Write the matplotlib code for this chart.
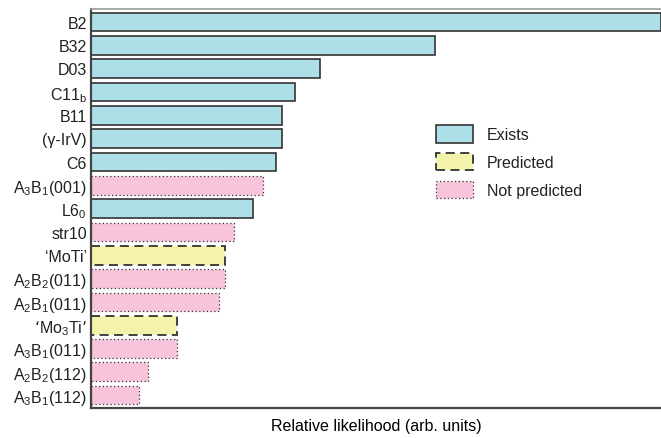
import matplotlib
matplotlib.use("Agg")
import matplotlib.pyplot as plt
from matplotlib.patches import Patch

plt.rcParams['font.family'] = ['Liberation Sans', 'DejaVu Sans']
plt.rcParams['mathtext.default'] = 'regular'
plt.rcParams['font.size'] = 11.5
plt.rcParams['text.color'] = '#222222'
plt.rcParams['ytick.color'] = '#222222'

structures = ['B2', 'B32', 'D03', 'C11$_b$', 'B11', '(γ-IrV)', 'C6', 'A$_3$B$_1$(001)',
              'L6$_0$', 'str10', '‘MoTi’', 'A$_2$B$_2$(011)', 'A$_2$B$_1$(011)',
              '‘Mo$_3$Ti’', 'A$_3$B$_1$(011)', 'A$_2$B$_2$(112)', 'A$_3$B$_1$(112)']
likelihood = [100, 60.4, 40.2, 35.8, 33.5, 33.5, 32.5, 30.2,
              28.4, 25.1, 23.5, 23.5, 22.5, 15.1, 15.1, 10.0, 8.4]
status = ['exists', 'exists', 'exists', 'exists', 'exists', 'exists', 'exists', 'not',
          'exists', 'not', 'predicted', 'not', 'not', 'predicted', 'not', 'not', 'not']

styles = {
    'exists': dict(facecolor='#addfe9', edgecolor='#333333', linestyle='-', linewidth=1.2),
    'predicted': dict(facecolor='#f3f3ab', edgecolor='#333333', linestyle=(0, (5, 3)), linewidth=1.3),
    'not': dict(facecolor='#f7c4dc', edgecolor='#333333', linestyle=(0, (1, 2)), linewidth=0.9),
}

fig = plt.figure(figsize=(6.61, 4.39), dpi=100)
ax = fig.add_axes([91 / 661, 30 / 439, 570 / 661, 399 / 439])

ypos = list(range(len(structures)))
for y, v, s in zip(ypos, likelihood, status):
    ax.barh(y, v, height=0.8, **styles[s])

ax.set_xlim(0, 100)
ax.set_ylim(len(structures) - 0.45, -0.55)
ax.set_yticks(ypos)
ax.set_yticklabels(structures)
ax.tick_params(axis='y', length=0, pad=3)
ax.set_xticks([])
ax.set_xlabel('Relative likelihood (arb. units)', labelpad=7)

for side in ('left', 'bottom'):
    ax.spines[side].set_linewidth(1.6)
    ax.spines[side].set_color('#444444')
ax.spines['right'].set_visible(False)
ax.spines['top'].set_color('#999999')
ax.spines['top'].set_linewidth(1.2)

handles = [Patch(label='Exists', **styles['exists']),
           Patch(label='Predicted', **styles['predicted']),
           Patch(label='Not predicted', **styles['not'])]
ax.legend(handles=handles, loc='upper left', bbox_to_anchor=(0.58, 0.745),
          frameon=False, handlelength=2.3, handleheight=1.3,
          labelspacing=0.65, handletextpad=0.9)

fig.savefig('out.png', dpi=100)
